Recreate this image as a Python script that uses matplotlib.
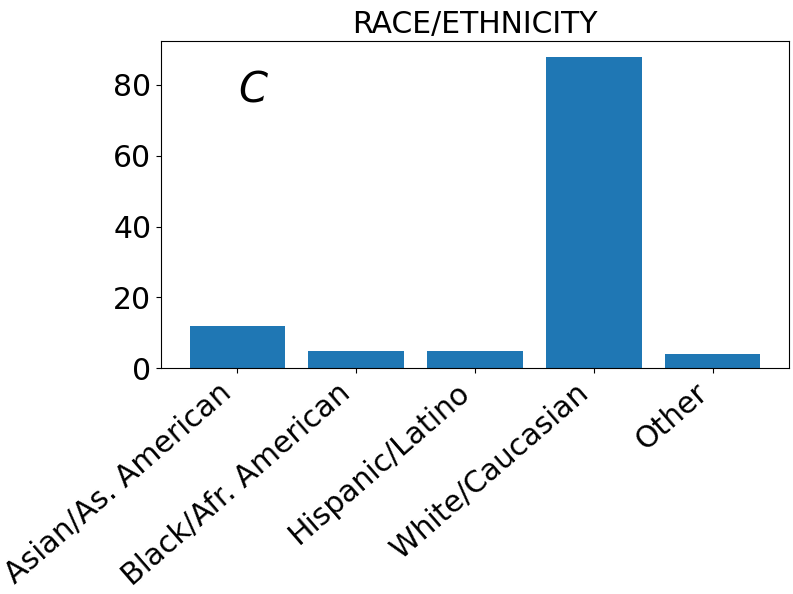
import matplotlib
matplotlib.use("Agg")
import matplotlib.pyplot as plt
import numpy as np

categories = ["Asian/As. American", "Black/Afr. American", "Hispanic/Latino",
              "White/Caucasian", "Other"]
counts = [12, 5, 5, 88, 4]

fig, ax = plt.subplots(figsize=(7.93, 5.94), dpi=100)
fig.subplots_adjust(left=0.203, right=0.995, top=0.931, bottom=0.380)

x = np.arange(len(categories))
ax.bar(x, counts, width=0.8, color="#1f77b4")
ax.set_xticks(x)
ax.set_xticklabels(categories, rotation=41, ha="right")
ax.tick_params(axis="x", which="major", labelsize=21.5)
ax.tick_params(axis="y", which="major", labelsize=21.5)
ax.set_title("RACE/ETHNICITY", fontsize=21.5)
ax.text(0.146, 0.85, "C", transform=ax.transAxes, fontsize=30,
        style="italic", ha="center", va="center")

fig.savefig("out.png", dpi=100)
